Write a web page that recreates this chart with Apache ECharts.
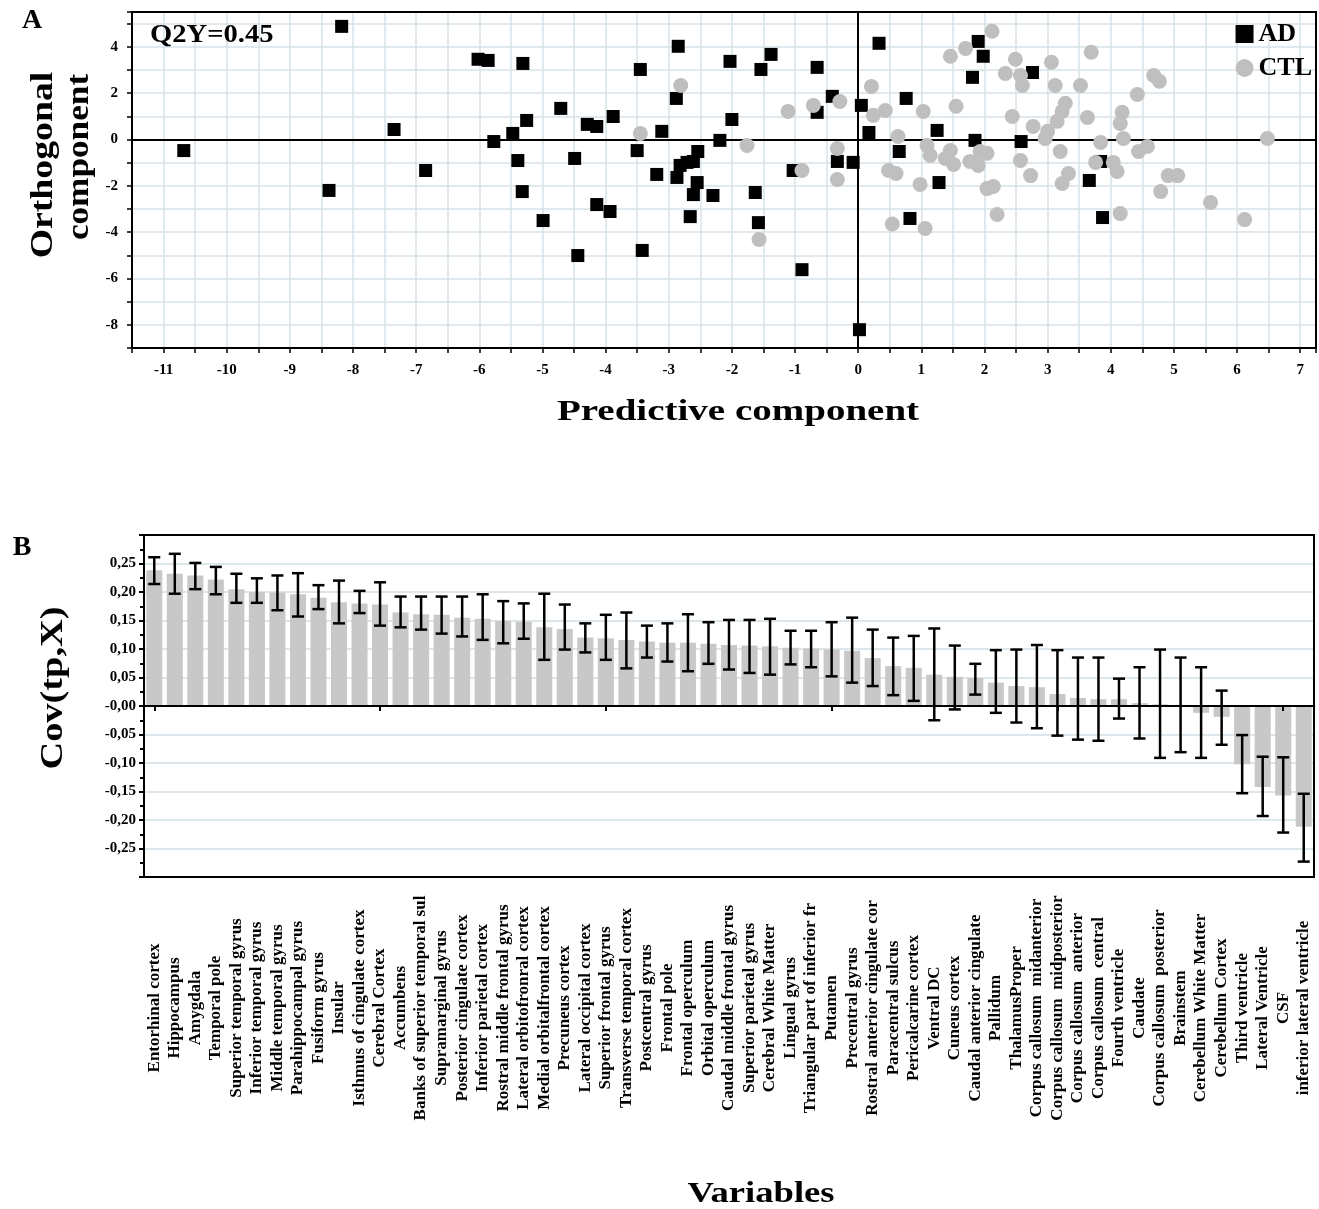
<!DOCTYPE html>
<html><head><meta charset="utf-8">
<script src="https://cdn.jsdelivr.net/npm/echarts@6/dist/echarts.min.js"></script>
<style>html,body{margin:0;padding:0;background:#fff}#c{width:1319px;height:1209px}</style>
</head><body><div id="c"></div>
<script>
// ---- Panel A: OPLS-DA scores ----
const adX = [-10.68,-8.18,-8.38,-7.35,-6.85,-6.02,-5.86,-5.77,-5.47,-5.39,-5.31,-5.32,-5.25,-4.99,-4.71,-4.49,-4.44,-4.29,-4.14,-4.14,-3.93,-3.88,-3.45,-3.50,-3.42,-3.11,-3.19,-2.88,-2.85,-2.87,-2.82,-2.66,-2.61,-2.61,-2.55,-2.54,-2.71,-2.30,-2.19,-2.03,-2.00,-1.63,-1.58,-1.54,-1.38,-1.03,-0.89,-0.65,-0.65,-0.41,-0.33,-0.08,0.02,0.05,0.17,0.33,0.76,0.65,0.82,1.25,1.28,1.81,1.85,1.90,1.98,2.58,2.76,3.66,3.84,3.87];
const adY = [-0.48,4.88,-2.20,0.43,-1.34,3.46,3.41,-0.09,0.26,-0.91,3.28,-2.25,0.82,-3.50,1.34,-0.82,-5.01,0.65,-2.81,0.56,-3.11,0.99,3.02,-0.48,-4.79,0.35,-1.51,1.77,4.02,-1.64,-1.12,-3.33,-2.38,-0.95,-1.86,-0.52,-0.99,-2.42,-0.04,3.37,0.86,-2.29,-3.59,3.02,3.67,-1.34,-5.62,3.11,1.17,1.86,-0.95,-0.99,-8.21,1.47,0.30,4.15,1.77,-0.52,-3.41,0.39,-1.86,2.68,-0.04,4.23,3.59,-0.09,2.89,-1.77,-0.95,-3.37];
const ctlX = [-2.81,-3.45,-1.76,-1.11,-0.71,-0.29,0.21,0.24,0.43,-0.33,-0.33,-0.89,-1.57,0.54,0.48,0.63,2.12,1.70,1.46,3.69,2.49,3.06,2.33,2.57,2.60,3.12,3.52,4.68,4.77,4.42,1.55,1.03,2.44,3.28,3.23,3.15,3.63,4.18,4.15,2.77,2.96,4.20,3.84,1.09,1.14,1.46,1.38,1.51,1.93,2.04,1.77,1.90,3.20,2.57,3.76,4.04,4.10,4.44,4.58,0.60,2.73,3.33,3.23,0.98,2.04,2.14,4.91,5.06,4.79,2.20,1.06,4.15,5.58,6.12,6.48,3.00];
const ctlY = [2.33,0.26,-0.26,1.21,1.47,1.64,2.29,1.04,1.25,-0.39,-1.73,-1.34,-4.32,-3.65,-1.34,0.13,4.67,3.93,3.59,3.76,3.46,3.33,2.85,2.76,2.33,2.33,2.33,2.76,2.51,1.94,1.43,1.21,0.99,1.56,1.21,0.78,0.95,1.17,0.69,0.56,0.04,0.04,-0.13,-0.26,-0.69,-0.48,-0.82,-1.08,-0.52,-0.60,-0.95,-1.12,-0.52,-0.91,-0.99,-0.99,-1.38,-0.52,-0.30,-1.47,-1.56,-1.47,-1.90,-1.94,-2.12,-2.03,-1.56,-1.56,-2.25,-3.24,-3.84,-3.20,-2.72,-3.46,0.04,0.35];

// ---- Panel B: covariance loadings ----
const variables = ["Entorhinal cortex","Hippocampus","Amygdala","Temporal pole","Superior temporal gyrus","Inferior temporal gyrus","Middle temporal gyrus","Parahippocampal gyrus","Fusiform gyrus","Insular","Isthmus of cingulate cortex","Cerebral Cortex","Accumbens","Banks of superior temporal sul","Supramarginal gyrus","Posterior cingulate cortex","Inferior parietal cortex","Rostral middle frontal gyrus","Lateral orbitofronral cortex","Medial orbitalfrontal cortex","Precuneus cortex","Lateral occipital cortex","Superior frontal gyrus","Transverse temporal cortex","Postcentral gyrus","Frontal pole","Frontal operculum","Orbital operculum","Caudal middle frontal gyrus","Superior parietal gyrus","Cerebral White Matter","Lingual gyrus","Triangular part of inferior fr","Putamen","Precentral gyrus","Rostral anterior cingulate cor","Paracentral sulcus","Pericalcarine cortex","Ventral DC","Cuneus cortex","Caudal anterior cingulate","Pallidum","ThalamusProper","Corpus callosum  midanterior","Corpus callosum  midposterior","Corpus callosum  anterior","Corpus callosum  central","Fourth ventricle","Caudate","Corpus callosum  posterior","Brainstem","Cerebellum White Matter","Cerebellum Cortex","Third ventricle","Lateral Ventricle","CSF","inferior lateral ventricle"];
const covValues = [0.238,0.232,0.229,0.222,0.205,0.200,0.199,0.196,0.190,0.182,0.180,0.178,0.164,0.161,0.160,0.155,0.153,0.149,0.148,0.138,0.135,0.120,0.119,0.116,0.113,0.111,0.111,0.109,0.107,0.106,0.105,0.102,0.101,0.099,0.097,0.084,0.070,0.067,0.055,0.051,0.049,0.041,0.035,0.033,0.021,0.014,0.012,0.012,0.005,0.003,0.002,-0.012,-0.019,-0.102,-0.142,-0.157,-0.212];
const covHigh = [0.261,0.267,0.251,0.244,0.232,0.224,0.229,0.233,0.212,0.220,0.202,0.217,0.192,0.192,0.192,0.192,0.196,0.184,0.180,0.197,0.178,0.145,0.160,0.164,0.141,0.145,0.161,0.147,0.151,0.151,0.153,0.132,0.132,0.147,0.155,0.134,0.120,0.123,0.136,0.106,0.074,0.098,0.099,0.107,0.098,0.085,0.085,0.048,0.068,0.099,0.085,0.068,0.027,-0.051,-0.089,-0.090,-0.154];
const covLow = [0.214,0.197,0.205,0.196,0.181,0.181,0.168,0.157,0.170,0.145,0.163,0.141,0.138,0.134,0.127,0.122,0.116,0.110,0.118,0.081,0.099,0.094,0.081,0.066,0.085,0.078,0.061,0.074,0.064,0.058,0.055,0.073,0.068,0.052,0.041,0.035,0.019,0.009,-0.025,-0.006,0.020,-0.012,-0.029,-0.039,-0.052,-0.059,-0.061,-0.022,-0.057,-0.091,-0.081,-0.091,-0.068,-0.153,-0.193,-0.222,-0.273];

const FONT = "'Liberation Serif','Times New Roman',serif";
const GRIDC = '#d6e2e9';
const axisLbl = {fontFamily: FONT, fontWeight: 'bold', fontSize: 15, color: '#000'};

function txt(text, x, y, size, rot, align, sx) {
  return {type: 'text', x: x, y: y, rotation: rot || 0, scaleX: sx || 1, z: 50,
    style: {text: text, fill: '#000', fontFamily: FONT, fontWeight: 'bold', fontSize: size,
      align: align || 'center', verticalAlign: 'middle'}};
}
function frame(l, t, w, h) {
  return {type: 'rect', z: 60, silent: true, shape: {x: l, y: t, width: w, height: h},
    style: {fill: null, stroke: '#000', lineWidth: 2}};
}

function renderErr(params, api) {
  const i = api.value(0);
  const lo = api.coord([i, api.value(1)]);
  const hi = api.coord([i, api.value(2)]);
  const cw = 6;
  const st = {stroke: '#000', lineWidth: 2.5};
  return {type: 'group', children: [
    {type: 'line', shape: {x1: lo[0], y1: lo[1], x2: hi[0], y2: hi[1]}, style: st},
    {type: 'line', shape: {x1: lo[0] - cw, y1: lo[1], x2: lo[0] + cw, y2: lo[1]}, style: st},
    {type: 'line', shape: {x1: hi[0] - cw, y1: hi[1], x2: hi[0] + cw, y2: hi[1]}, style: st}
  ]};
}

const chart = echarts.init(document.getElementById('c'), null, {renderer: 'canvas'});
chart.setOption({
  animation: false,
  backgroundColor: '#fff',
  grid: [
    {left: 132, top: 12, width: 1184, height: 336, show: true, borderColor: '#000', borderWidth: 2, backgroundColor: '#fff', outerBoundsMode: 'none'},
    {left: 144, top: 535, width: 1170, height: 342, show: true, borderColor: '#000', borderWidth: 2, backgroundColor: '#fff', outerBoundsMode: 'none'}
  ],
  legend: {
    data: [{name: 'AD', icon: 'rect'}, {name: 'CTL', icon: 'circle'}],
    orient: 'vertical', right: 2, top: 16, itemWidth: 18, itemHeight: 18, itemGap: 8,
    selectedMode: false,
    textStyle: {fontFamily: FONT, fontWeight: 'bold', fontSize: 26, color: '#000'}
  },
  xAxis: [
    {gridIndex: 0, type: 'value', min: -11.5, max: 7.25, interval: 0.5,
      axisLine: {onZero: false, lineStyle: {color: '#000', width: 2}},
      axisTick: {show: true, length: 5, lineStyle: {color: '#000', width: 1.5}},
      axisLabel: Object.assign({margin: 15, formatter: function (v) {
        const r = Math.round(v * 100) / 100; return (Number.isInteger(r) && r <= 7) ? String(r) : ''; }}, axisLbl),
      splitLine: {show: true, lineStyle: {color: GRIDC, width: 1.5}}},
    {gridIndex: 1, type: 'category', data: variables, position: 'bottom',
      axisLine: {show: false, onZero: false}, axisTick: {show: false},
      axisLabel: {interval: 0, rotate: 90, align: 'center', verticalAlign: 'middle', margin: 131,
        fontFamily: FONT, fontWeight: 'bold', fontSize: 17, color: '#000'},
      splitLine: {show: false}},
    {gridIndex: 1, type: 'category', data: variables, position: 'bottom', z: 5,
      axisLine: {show: true, onZero: true, lineStyle: {color: '#000', width: 2}},
      axisTick: {show: true, alignWithLabel: true, length: 5, lineStyle: {color: '#000', width: 2}},
      axisLabel: {show: false}, splitLine: {show: false}}
  ],
  yAxis: [
    {gridIndex: 0, type: 'value', min: -9, max: 5.5, interval: 1,
      axisLine: {show: true, onZero: false, lineStyle: {color: '#000', width: 2}},
      axisTick: {show: true, length: 5, lineStyle: {color: '#000', width: 1.5}},
      axisLabel: Object.assign({margin: 14, formatter: function (v) {
        const r = Math.round(v); return (Math.abs(v - r) < 1e-6 && r % 2 === 0 && r >= -8 && r <= 4) ? String(r) : ''; }}, axisLbl),
      splitLine: {show: true, lineStyle: {color: GRIDC, width: 1.5}}},
    {gridIndex: 1, type: 'value', min: -0.3, max: 0.3, interval: 0.05,
      axisLine: {show: true, onZero: false, lineStyle: {color: '#000', width: 2}},
      axisTick: {show: true, length: 5, lineStyle: {color: '#000', width: 2}},
      minorTick: {show: true, splitNumber: 2, length: 4, lineStyle: {color: '#000', width: 2}},
      axisLabel: Object.assign({margin: 8, formatter: function (v) {
        const r = Math.round(v * 100) / 100;
        if (Math.abs(r) > 0.26) return '';
        if (Math.abs(r) < 1e-9) return '-0,00';
        return r.toFixed(2).replace('.', ','); }}, axisLbl),
      splitLine: {show: true, lineStyle: {color: '#dde6ea', width: 2}}}
  ],
  series: [
    {type: 'scatter', name: 'AD', xAxisIndex: 0, yAxisIndex: 0, symbol: 'rect', symbolSize: 13, z: 3,
      itemStyle: {color: '#000', opacity: 1},
      data: adX.map(function (x, i) { return [x, adY[i]]; }),
      markLine: {z: 1, silent: true, symbol: 'none', label: {show: false}, animation: false,
        lineStyle: {color: '#000', type: 'solid', width: 2},
        data: [{xAxis: 0}, {yAxis: 0}]}},
    {type: 'scatter', name: 'CTL', xAxisIndex: 0, yAxisIndex: 0, symbol: 'circle', symbolSize: 15, z: 4,
      itemStyle: {color: '#bfbfbf', opacity: 1},
      data: ctlX.map(function (x, i) { return [x, ctlY[i]]; })},
    {type: 'bar', name: 'Cov', xAxisIndex: 1, yAxisIndex: 1, barWidth: '78%', z: 2,
      itemStyle: {color: '#c8c8c8'}, data: covValues},
    {type: 'custom', name: 'CI', xAxisIndex: 1, yAxisIndex: 1, z: 6, renderItem: renderErr,
      encode: {x: 0, y: [1, 2]},
      data: covLow.map(function (l, i) { return [i, l, covHigh[i]]; })}
  ],
  graphic: [
    frame(132, 12, 1184, 336),
    frame(144, 535, 1170, 342),
    txt('A', 32, 21, 28),
    txt('Q2Y=0.45', 150, 35, 26, 0, 'left', 1.1),
    txt('Orthogonal', 44, 165, 32, Math.PI / 2, 'center', 1.18),
    txt('component', 80, 157, 32, Math.PI / 2, 'center', 1.1),
    txt('Predictive component', 738, 412, 30, 0, 'center', 1.3),
    txt('B', 22, 548, 28),
    txt('Cov(tp,X)', 54, 688, 32, Math.PI / 2, 'center', 1.2),
    txt('Variables', 761, 1194, 30, 0, 'center', 1.22)
  ]
});
</script>
</body></html>
